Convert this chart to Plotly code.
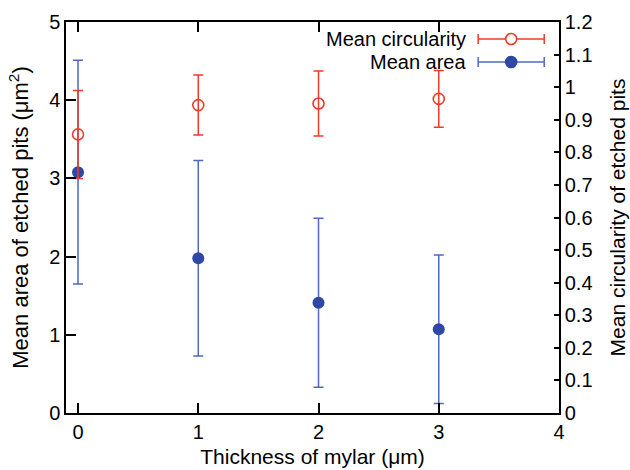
import plotly.graph_objects as go

thickness = [0, 1, 2, 3]
area_mean = [3.08, 1.98, 1.41, 1.07]
area_err = [1.43, 1.25, 1.08, 0.95]
circ_mean = [0.855, 0.945, 0.950, 0.964]
circ_err = [0.135, 0.092, 0.100, 0.087]

RED = "#ee3b2a"
BLUE_M = "#2f48a6"
BLUE_E = "#5068c4"
FONT = "Liberation Sans, Arial, sans-serif"

fig = go.Figure()
fig.add_trace(go.Scatter(
    x=thickness, y=circ_mean, yaxis="y2", mode="markers", name="Mean circularity",
    marker=dict(symbol="circle-open", size=11, color=RED, line=dict(width=1.6, color=RED)),
    error_y=dict(type="data", array=circ_err, color=RED, thickness=1.5, width=5),
    showlegend=False))
fig.add_trace(go.Scatter(
    x=thickness, y=area_mean, mode="markers", name="Mean area",
    marker=dict(symbol="circle", size=12, color=BLUE_M),
    error_y=dict(type="data", array=area_err, color=BLUE_E, thickness=1.5, width=5),
    showlegend=False))

def axis_common(ticklen):
    return dict(showline=True, linecolor="black", linewidth=1.5, ticks="inside",
                ticklen=ticklen, tickwidth=1.5, tickcolor="black", showgrid=False,
                zeroline=False, automargin=False,
                tickfont=dict(size=20, color="black", family=FONT))

fig.update_layout(
    width=630, height=470, plot_bgcolor="white", paper_bgcolor="white",
    margin=dict(l=66, r=71, t=22, b=57),
    font=dict(family=FONT, color="black"),
    xaxis=dict(range=[-0.1, 4], tickvals=[0, 1, 2, 3, 4], mirror="ticks",
               title=dict(text="Thickness of mylar (μm)", font=dict(size=21), standoff=8),
               **axis_common(10)),
    yaxis=dict(range=[0, 5], tickvals=[0, 1, 2, 3, 4, 5],
               title=dict(text="Mean area of etched pits (μm<sup>2</sup>)", font=dict(size=22), standoff=14),
               **axis_common(10)),
    yaxis2=dict(range=[0, 1.2], overlaying="y", side="right",
                tickvals=[0, 0.1, 0.2, 0.3, 0.4, 0.5, 0.6, 0.7, 0.8, 0.9, 1, 1.1, 1.2],
                ticktext=["0", "0.1", "0.2", "0.3", "0.4", "0.5", "0.6", "0.7", "0.8", "0.9", "1", "1.1", "1.2"],
                title=dict(text="Mean circularity of etched pits", font=dict(size=21), standoff=19),
                **axis_common(5)),
)

# custom legend (text on left, sample on right)
legend_items = [("Mean circularity", RED, RED, 0.9565, True),
                ("Mean area", BLUE_E, BLUE_M, 0.8977, False)]
lx_text, lx0, lx1, lxm = 0.815, 0.836, 0.970, 0.903
for label, lc, mc, yy, openm in legend_items:
    fig.add_annotation(x=lx_text, y=yy, xref="paper", yref="paper", text=label,
                       showarrow=False, xanchor="right", yanchor="middle",
                       font=dict(size=20, color="black", family=FONT))
    fig.add_shape(type="line", xref="paper", yref="paper", x0=lx0, x1=lx1, y0=yy, y1=yy,
                  line=dict(color=lc, width=1.5))
    for xe in (lx0, lx1):
        fig.add_shape(type="line", xref="paper", yref="paper", xsizemode="pixel",
                      ysizemode="pixel", xanchor=xe, yanchor=yy, x0=0, x1=0, y0=-5, y1=5,
                      line=dict(color=lc, width=1.5))
    fig.add_shape(type="circle", xref="paper", yref="paper", xsizemode="pixel",
                  ysizemode="pixel", xanchor=lxm, yanchor=yy, x0=-5.5, x1=5.5, y0=-5.5, y1=5.5,
                  line=dict(color=mc, width=1.6),
                  fillcolor="white" if openm else mc)

fig.write_html("out.html", config={"displayModeBar": False},
               post_script="document.body.style.margin='0';document.body.style.overflow='hidden';")
